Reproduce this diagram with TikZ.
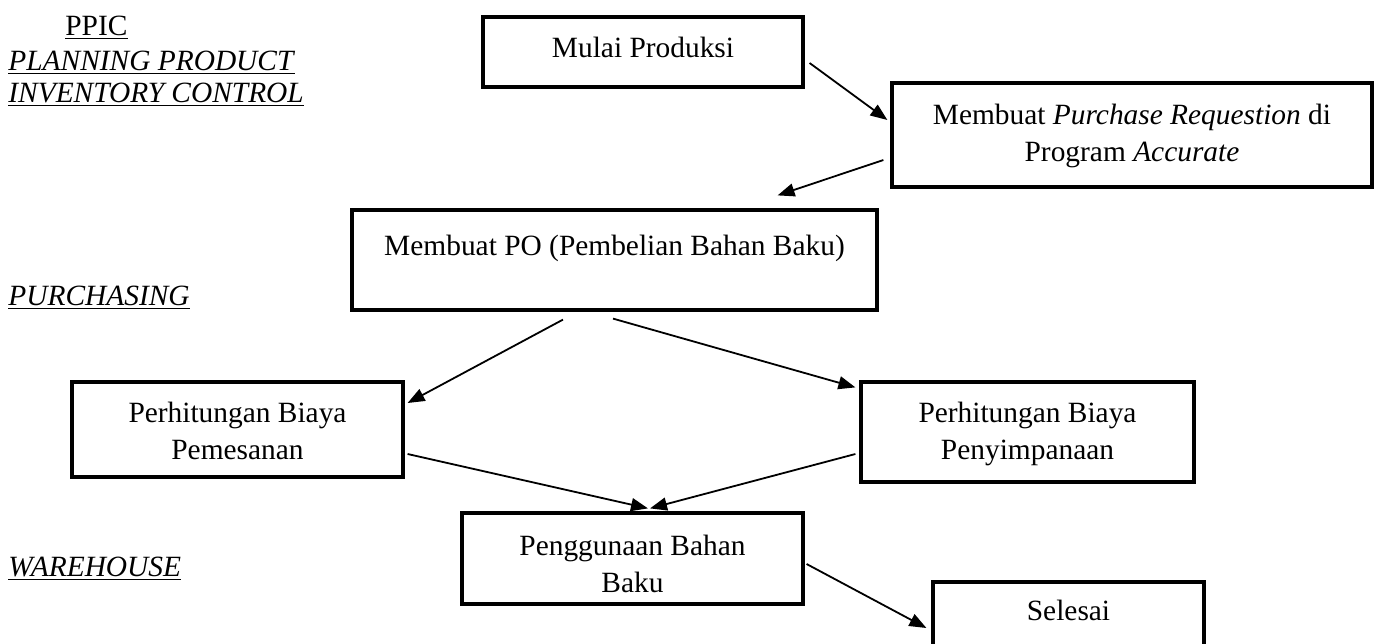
\documentclass[tikz,border=0pt]{standalone}
\usepackage{fontspec}
\setmainfont{Liberation Serif}
\usetikzlibrary{arrows.meta}
\newcommand{\uit}[1]{\underline{\textit{#1}}}

\begin{document}
\begin{tikzpicture}[x=0.5pt, y=-0.5pt,
        every node/.style={font=\fontsize{14.7}{18.5}\selectfont},
        box/.style={draw, line width=1.6pt, inner sep=0pt, align=center},
        lane/.style={anchor=base west, inner sep=0pt, align=left},
        flow/.style={-{Triangle[length=8.5pt,width=6.5pt]}, line width=0.9pt}]

                \useasboundingbox (0, 0) rectangle (1376, 643);

                % lanes
                \node [lane] (ppic) at (65, 35) {\underline{PPIC}};
                \node [lane, font=\fontsize{14.7}{16}\selectfont] (ppicname) at (8, 102)
                    {\uit{PLANNING PRODUCT}\\\uit{INVENTORY CONTROL}};
                \node [lane] (purchasing) at (8, 305) {\uit{PURCHASING}};
                \node [lane] (warehouse) at (8, 576) {\uit{WAREHOUSE}};

                % steps (text height runs down to the last baseline)
                \node [box, minimum width=160pt, text height=20pt, text depth=15pt]
                    (mulai) at (643, 52) {Mulai Produksi};
                \node [box, minimum width=240pt, text height=39pt, text depth=13pt]
                    (pr) at (1132, 135)
                    {Membuat \textit{Purchase Requestion} di\\Program \textit{Accurate}};
                \node [box, minimum width=262.5pt, text height=22.5pt, text depth=27.5pt]
                    (po) at (614.5, 260) {Membuat PO (Pembelian Bahan Baku)};
                \node [box, minimum width=165.5pt, text height=38.5pt, text depth=9pt]
                    (pesan) at (237.5, 429.5) {Perhitungan Biaya\\Pemesanan};
                \node [box, minimum width=166.5pt, text height=38.5pt, text depth=11.5pt]
                    (simpan) at (1027.5, 432) {Perhitungan Biaya\\Penyimpanaan};
                \node [box, minimum width=170.5pt, text height=39.5pt, text depth=6pt]
                    (guna) at (632.5, 558.5) {Penggunaan Bahan\\Baku};
                \node [box, minimum width=135.5pt, text height=19pt, text depth=20pt]
                    (selesai) at (1068.5, 621) {Selesai};

                % flow
                \draw [flow] ([shift={(5, 11)}]mulai.east) -- ([shift={(-3, -15)}]pr.west);
                \draw [flow] ([shift={(-7, 25)}]pr.west) -- ([shift={(-101, -13)}]po.north east);
                \draw [flow] ([shift={(-51.5, 8)}]po.south) -- ([shift={(3, -26.5)}]pesan.east);
                \draw [flow] ([shift={(-1.5, 7)}]po.south) -- ([shift={(-4, 7)}]simpan.north west);
                \draw [flow] ([shift={(3, 24.5)}]pesan.east) -- ([shift={(15.5, -3)}]guna.north);
                \draw [flow] ([shift={(-4, 22)}]simpan.west) -- ([shift={(17.5, -3)}]guna.north);
                \draw [flow] ([shift={(2, 5.5)}]guna.east) -- ([shift={(-5, 7)}]selesai.west);
            \end{tikzpicture}
\end{document}
